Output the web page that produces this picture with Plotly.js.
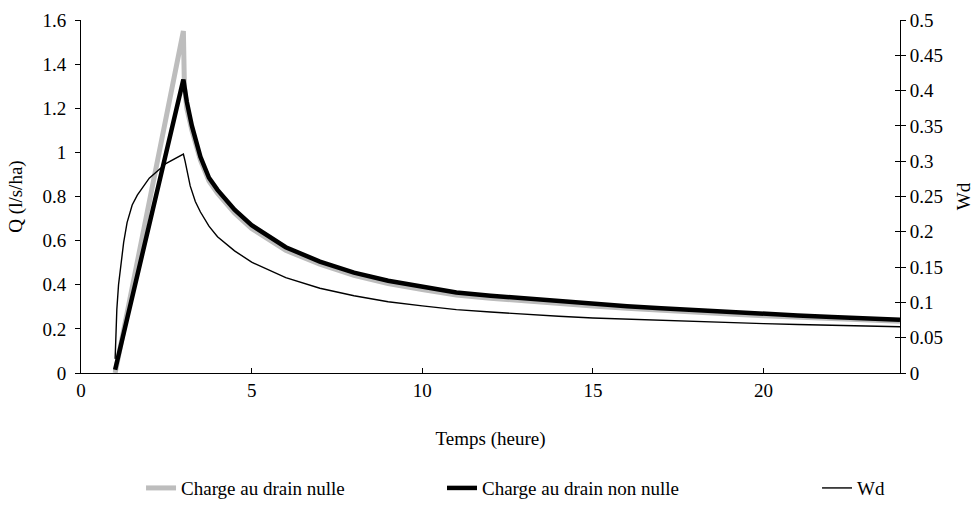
<!DOCTYPE html>
<html>
<head>
<meta charset="utf-8">
<script src="https://cdn.plot.ly/plotly-3.0.1.min.js"></script>
<style>
html,body{margin:0;padding:0;background:#fff;}
#chart{width:980px;height:506px;}
</style>
</head>
<body>
<div id="chart"></div>
<script>
// Série "Charge au drain nulle" (Q, l/s/ha)
var tNulle = [1, 3, 3.03, 3.1, 3.25, 3.5, 3.75, 4, 4.5, 5,
  6, 7, 8, 9, 10, 11, 12, 13, 14, 15, 16, 17, 18, 19, 20, 21, 22, 23, 24];
var qNulle = [0, 1.55, 1.3, 1.2, 1.1, 0.965, 0.87, 0.815, 0.725, 0.655,
  0.556, 0.493, 0.443, 0.406, 0.378, 0.354, 0.339, 0.326, 0.314, 0.304,
  0.293, 0.283, 0.275, 0.267, 0.259, 0.252, 0.246, 0.24, 0.234];

// Série "Charge au drain non nulle" (Q, l/s/ha)
var tNonNulle = [1, 3, 3.1, 3.25, 3.5, 3.75, 4, 4.5, 5,
  6, 7, 8, 9, 10, 11, 12, 13, 14, 15, 16, 17, 18, 19, 20, 21, 22, 23, 24];
var qNonNulle = [0.015, 1.33, 1.23, 1.12, 0.98, 0.885, 0.83, 0.74, 0.67,
  0.57, 0.505, 0.455, 0.418, 0.39, 0.365, 0.35, 0.337, 0.325, 0.315,
  0.303, 0.293, 0.284, 0.276, 0.268, 0.261, 0.254, 0.248, 0.241];

// Série "Wd" (axe secondaire)
var tWd = [1, 1.05, 1.1, 1.15, 1.25, 1.35, 1.5, 1.65, 2, 2.5, 3,
  3.05, 3.1, 3.2, 3.35, 3.5, 3.75, 4, 4.5, 5,
  6, 7, 8, 9, 10, 11, 12, 13, 14, 15, 16, 17, 18, 19, 20, 21, 22, 23, 24];
var wd = [0.02, 0.09, 0.125, 0.148, 0.185, 0.213, 0.238, 0.252, 0.276, 0.297, 0.31,
  0.3, 0.288, 0.265, 0.243, 0.228, 0.208, 0.193, 0.173, 0.157,
  0.135, 0.12, 0.1095, 0.101, 0.095, 0.0898, 0.0864, 0.0829, 0.0803, 0.078,
  0.0762, 0.0744, 0.0727, 0.0711, 0.07, 0.0688, 0.0678, 0.0667, 0.0655];

var seriesNames = ["Charge au drain nulle", "Charge au drain non nulle", "Wd"];
var xTitle = "Temps (heure)";
var yTitle = "Q (l/s/ha)";
var y2Title = "Wd";

var FONT = "Liberation Serif";
var FS = 19;

var traces = [
  {x: tNulle, y: qNulle, type: "scatter", mode: "lines", name: seriesNames[0],
   line: {color: "#bdbdbd", width: 5}, legend: "legend"},
  {x: tNonNulle, y: qNonNulle, type: "scatter", mode: "lines", name: seriesNames[1],
   line: {color: "#000000", width: 4.5}, legend: "legend2"},
  {x: tWd, y: wd, type: "scatter", mode: "lines", name: seriesNames[2], yaxis: "y2",
   line: {color: "#000000", width: 1.4}, legend: "legend3"},
  // empty helper so the inner tick set of the right axis is drawn (crossing ticks)
  {x: [], y: [], type: "scatter", mode: "lines", yaxis: "y3", showlegend: false, hoverinfo: "skip"}
];

var legBase = {orientation: "h", xanchor: "left", yanchor: "middle", y: -0.326,
  bgcolor: "rgba(0,0,0,0)", font: {family: FONT, size: FS, color: "#000"}};

var layout = {
  width: 980, height: 506,
  margin: {l: 81, r: 80, t: 20, b: 133, autoexpand: false},
  paper_bgcolor: "#fff", plot_bgcolor: "#fff",
  font: {family: FONT, size: FS, color: "#000"},
  showlegend: true,
  legend: Object.assign({}, legBase, {x: 0.0733}),
  legend2: Object.assign({}, legBase, {x: 0.4408}),
  legend3: Object.assign({}, legBase, {x: 0.8987}),
  xaxis: {range: [0, 24], tick0: 0, dtick: 5, ticks: "inside", ticklen: 5,
    tickcolor: "#000", showline: true, linecolor: "#000", linewidth: 1,
    showgrid: false, zeroline: false, automargin: false,
    tickfont: {family: FONT, size: FS},
    title: {text: xTitle, font: {family: FONT, size: FS}, standoff: 31}},
  yaxis: {range: [0, 1.6], tick0: 0, dtick: 0.2, ticks: "outside", ticklen: 5,
    ticklabelstandoff: 5,
    tickcolor: "#000", showline: true, linecolor: "#000", linewidth: 1,
    showgrid: false, zeroline: false, automargin: false,
    tickfont: {family: FONT, size: FS},
    title: {text: yTitle, font: {family: FONT, size: FS}, standoff: 14}},
  yaxis2: {range: [0, 0.5], tick0: 0, dtick: 0.05, overlaying: "y", side: "right",
    ticks: "outside", ticklen: 5, tickcolor: "#000", showline: true,
    linecolor: "#000", linewidth: 1, showgrid: false, zeroline: false, automargin: false,
    tickfont: {family: FONT, size: FS},
    title: {text: y2Title, font: {family: FONT, size: FS}, standoff: 14}},
  yaxis3: {range: [0, 0.5], tick0: 0, dtick: 0.05, overlaying: "y", side: "right",
    ticks: "inside", ticklen: 5, tickcolor: "#000", showline: false, automargin: false,
    showticklabels: false, showgrid: false, zeroline: false}
};

Plotly.newPlot("chart", traces, layout, {displayModeBar: false, staticPlot: true});
</script>
</body>
</html>
